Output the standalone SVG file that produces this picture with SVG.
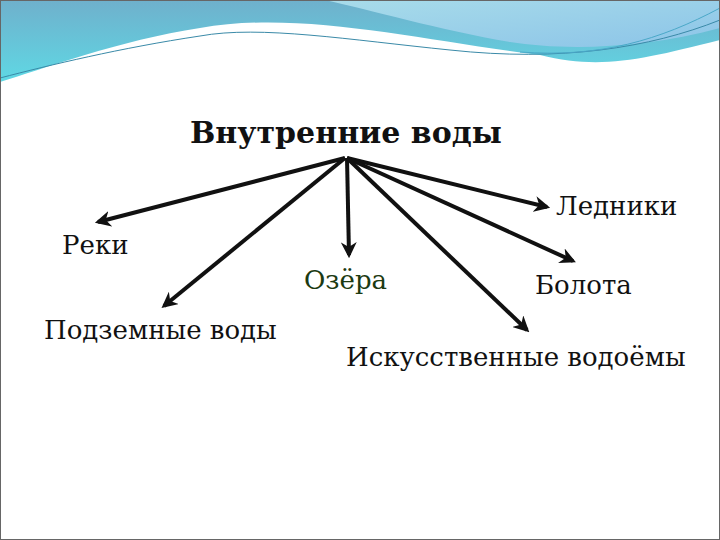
<svg xmlns="http://www.w3.org/2000/svg" width="720" height="540" viewBox="0 0 720 540">
<defs>
<linearGradient id="g1" x1="0" y1="0" x2="0" y2="1"><stop offset="0" stop-color="#6fb0cc"/><stop offset="1" stop-color="#5fd8e4"/></linearGradient>
<linearGradient id="g2" x1="0" y1="0" x2="1" y2="1"><stop offset="0" stop-color="#a8dcea"/><stop offset="1" stop-color="#8cc4e8"/></linearGradient>
<marker id="ah" viewBox="0 0 10 10" refX="8" refY="5" markerWidth="4" markerHeight="4" orient="auto"><path d="M0,0 L10,5 L0,10 L3,5 Z" fill="#111"/></marker>
<style>
.t{font-family:'DejaVu Serif','Liberation Serif',serif;font-size:26px;fill:#111}
.c{stroke:#111;stroke-width:4;fill:none;marker-end:url(#ah)}
</style>
</defs>
<rect width="720" height="540" fill="#fff"/>
<g id="banner">
<path d="M0,0 H720 V40 C640,60 600,70 540,55 C420,40 300,10 200,28 C120,40 40,70 0,82 Z" fill="url(#g1)"/>
<path d="M325,0 H720 V28 C640,50 560,50 510,42 C440,30 370,10 325,0 Z" fill="url(#g2)"/>
<path d="M720,20 C650,48 560,62 450,50 C350,40 260,25 200,36 C120,48 50,65 0,78" stroke="#3a8aa8" stroke-width="1" fill="none"/>
<path d="M720,8 C660,40 600,58 520,52" stroke="#4aa8c8" stroke-width="1" fill="none"/>
<rect x="0.5" y="0.5" width="719" height="539" fill="none" stroke="#666" stroke-width="1"/>
</g>
<g id="connectors">
<line class="c" x1="345" y1="158" x2="98" y2="222"/>
<line class="c" x1="345" y1="158" x2="164" y2="306"/>
<line class="c" x1="347" y1="158" x2="349" y2="255"/>
<line class="c" x1="347" y1="158" x2="547" y2="207"/>
<line class="c" x1="347" y1="158" x2="573" y2="261"/>
<line class="c" x1="347" y1="158" x2="527" y2="330"/>
</g>
<g id="title"><text class="t" x="190" y="143" style="font-size:30px;font-weight:bold">Внутренние воды</text></g>
<g id="n1"><text class="t" x="62" y="254">Реки</text></g>
<g id="n2"><text class="t" x="44" y="339">Подземные воды</text></g>
<g id="n3"><text class="t" x="304" y="289" style="fill:#1c3a12">Озёра</text></g>
<g id="n4"><text class="t" x="556" y="215">Ледники</text></g>
<g id="n5"><text class="t" x="535" y="294">Болота</text></g>
<g id="n6"><text class="t" x="346" y="366">Искусственные водоёмы</text></g>
</svg>
